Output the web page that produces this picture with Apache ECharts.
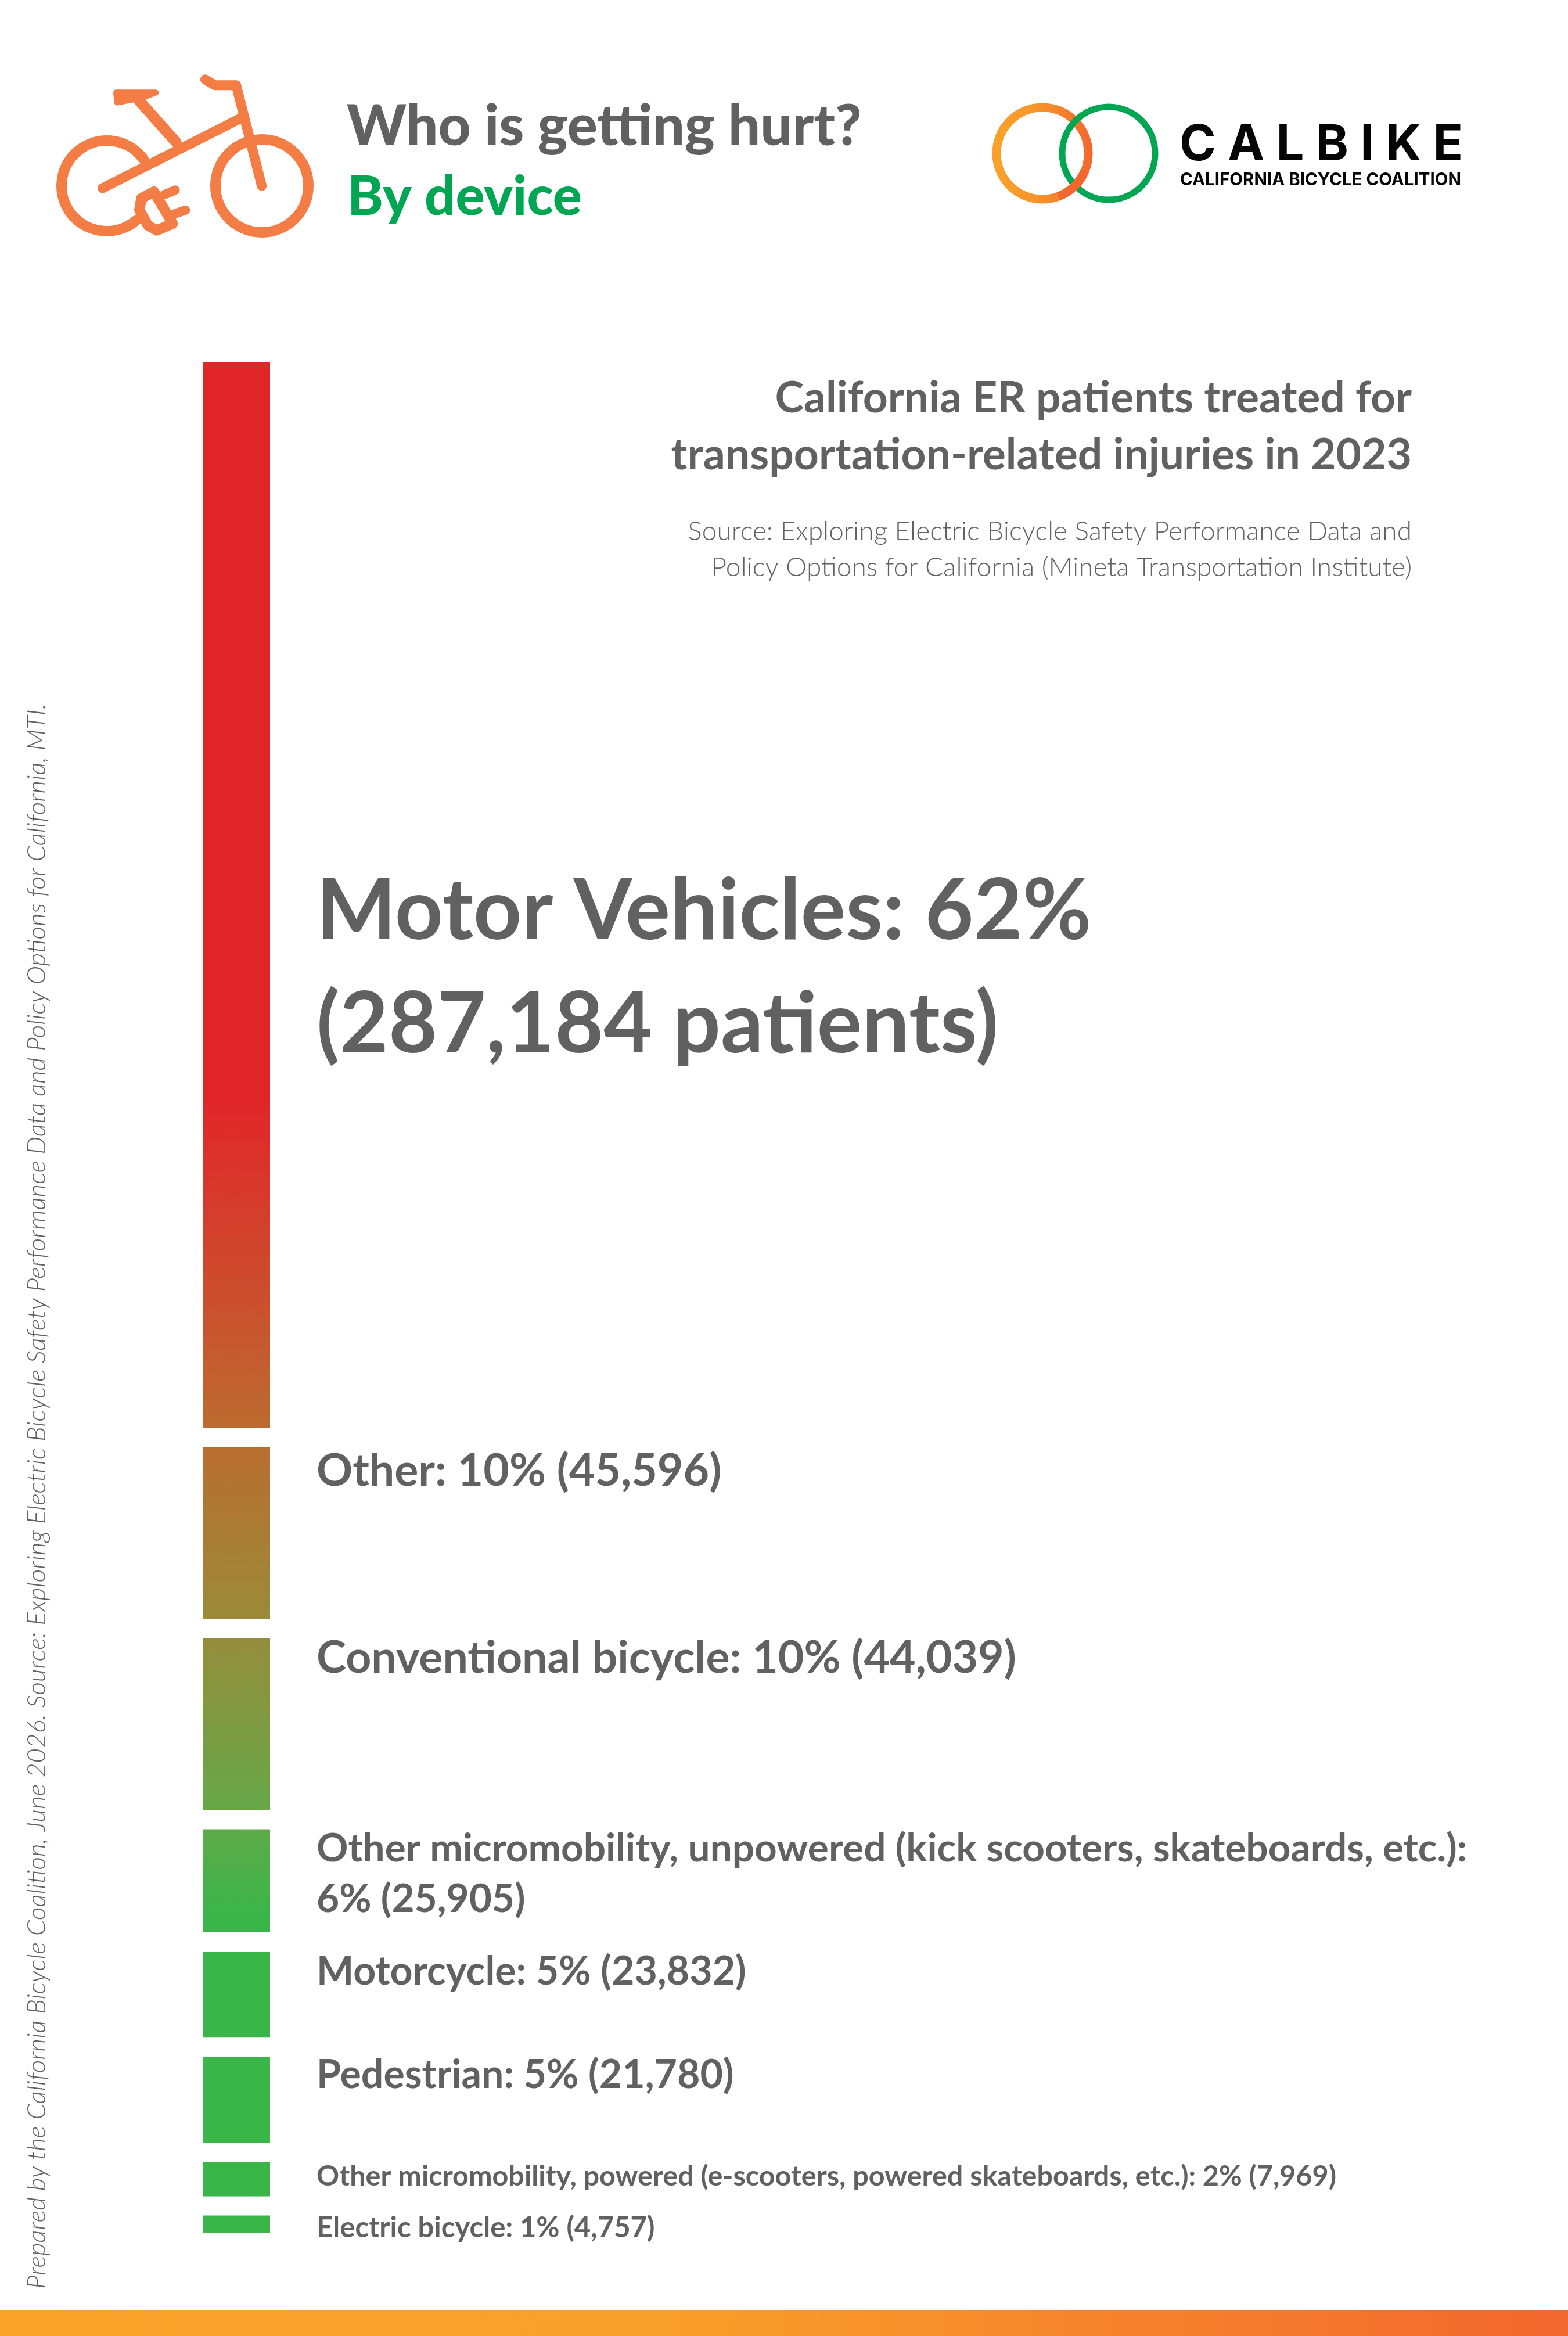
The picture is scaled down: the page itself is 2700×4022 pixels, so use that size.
<!DOCTYPE html>
<html>
<head>
<meta charset="utf-8">
<style>html,body{margin:0;padding:0;background:#fff}#c{width:2700px;height:4022px}</style>
<script src="https://cdn.jsdelivr.net/npm/echarts@6/dist/echarts.min.js"></script>
</head>
<body>
<div id="c"></div>
<script>
// ---------- data ----------
const categories = ['Motor Vehicles','Other','Conventional bicycle','Other micromobility, unpowered (kick scooters, skateboards, etc.)','Motorcycle','Pedestrian','Other micromobility, powered (e-scooters, powered skateboards, etc.)','Electric bicycle'];
const percents = [62,10,10,6,5,5,2,1];
const patients = [287184,45596,44039,25905,23832,21780,7969,4757];

// ---------- styles ----------
const FONT = 'Lato';
const GREY = '#616161';
const GROUP_GAP = 1.115;           // white gap between the blocks, in percentage points
const labelStyles = [
  {size:145, lh:195, dy:850, weight:700},
  {size:77, lh:80, dy:2, weight:700},
  {size:77, lh:80, dy:-5, weight:700},
  {size:67.5, lh:87, dy:-10, weight:700},
  {size:68, lh:80, dy:-5, weight:700},
  {size:68, lh:80, dy:-8, weight:700},
  {size:48.5, lh:60, dy:-5, weight:700},
  {size:49, lh:60, dy:-8, weight:700}
];
const barColorStops = [
  {offset:0, color:'#E1262A'},{offset:0.396, color:'#E1262A'},{offset:0.570, color:'#BC6B30'},
  {offset:0.672, color:'#9A8A3A'},{offset:0.774, color:'#66A848'},{offset:0.831, color:'#39B54A'},{offset:1, color:'#39B54A'}
];
const grid = {left:349, top:623, width:116, height:3221};

// ---------- series ----------
const fmt = n => n.toLocaleString('en-US');
function labelText(i){
  if(i===0) return categories[i]+': '+percents[i]+'%\n('+fmt(patients[i])+' patients)';
  if(i===3) return categories[i]+':\n'+percents[i]+'% ('+fmt(patients[i])+')';
  return categories[i]+': '+percents[i]+'% ('+fmt(patients[i])+')';
}
const series = [];
categories.forEach((c,i)=>{
  const s = labelStyles[i];
  series.push({
    type:'bar', stack:'all', name:c, barWidth:116, data:[percents[i]],
    itemStyle:{color:{type:'linear',global:true,x:0,y:grid.top,x2:0,y2:grid.top+grid.height,colorStops:barColorStops}},
    label:{show:true, position:[196,s.dy], align:'left', verticalAlign:'top', formatter:()=>labelText(i),
      fontFamily:FONT, fontWeight:s.weight, fontSize:s.size, lineHeight:s.lh, color:GREY}
  });
  if(i<categories.length-1) series.push({type:'bar',stack:'all',name:'gap'+i,barWidth:116,data:[GROUP_GAP],itemStyle:{color:'rgba(0,0,0,0)'},silent:true});
});
const yMax = percents.reduce((a,b)=>a+b,0)+GROUP_GAP*(categories.length-1);

// ---------- decorative graphics ----------
const ORANGE = '#F47C45';
const iz = (X,Y)=>[90+X/3,120+Y/3];
const pts = a=>a.map(p=>iz(p[0],p[1]));
const stroke = (w)=>({stroke:ORANGE,fill:null,lineWidth:w,lineCap:'round',lineJoin:'round'});
function poly(a,w){return {type:'polyline',shape:{points:pts(a)},style:stroke(w)};}
function txt(x,y,t,size,o={}){return {type:'text',x,y,rotation:o.rot||0,style:{text:t,fontFamily:o.font||FONT,fontWeight:o.weight||700,fontStyle:o.style||'normal',fontSize:size,fill:o.fill||GREY,align:o.align||'left',verticalAlign:'middle'}};}
const graphicEls = [
  // bike icon
  {type:'arc',shape:{cx:184,cy:320,r:78,startAngle:Math.PI*50/180,endAngle:-Math.PI*36/180,clockwise:true},style:stroke(18)},
  {type:'circle',shape:{cx:451,cy:320,r:80},style:{stroke:ORANGE,fill:null,lineWidth:18}},
  poly([[260,612],[985,245]],17),
  poly([[440,150],[640,375]],19),
  poly([[790,50],[840,80],[950,80],[1082,600]],17),
  {type:'polygon',shape:{points:pts([[330,118],[535,118],[465,145],[335,170]])},style:{fill:ORANGE,stroke:ORANGE,lineWidth:10,lineJoin:'round'}},
  {type:'polygon',shape:{points:pts([[525,630],[622,795],[540,830],[495,805],[450,725],[460,665]])},style:stroke(18)},
  poly([[580,645],[635,622]],16),
  poly([[632,745],[688,725]],16),
  // logo rings
  {type:'circle',shape:{cx:1795,cy:264,r:79},style:{fill:null,lineWidth:15,stroke:{type:'linear',x:0,y:0,x2:1,y2:0,colorStops:[{offset:0,color:'#F9A22A'},{offset:0.45,color:'#F7942B'},{offset:1,color:'#F2672E'}]}}},
  {type:'circle',shape:{cx:1909,cy:264,r:80},style:{fill:null,lineWidth:11,stroke:'#00A651'}},
  {type:'arc',shape:{cx:1795,cy:264,r:79,startAngle:Math.PI*22/180,endAngle:Math.PI*70/180,clockwise:true},style:{fill:null,lineWidth:15,stroke:'#F2672E'}},
  txt(2031,250,'C A L B I K E',85,{font:'Inter',weight:700,fill:'#050505'}),
  txt(2032,310,'CALIFORNIA BICYCLE COALITION',29.5,{font:'Inter',weight:700,fill:'#050505'}),
  // headings
  txt(597,219,'Who is getting hurt?',97.5,{weight:900}),
  txt(598,340,'By device',93.5,{weight:900,fill:'#00A651'}),
  txt(2431,686,'California ER patients treated for',75,{align:'right'}),
  txt(2431,784,'transportation-related injuries in 2023',75,{align:'right'}),
  txt(2431,915,'Source: Exploring Electric Bicycle Safety Performance Data and',46,{align:'right',weight:300}),
  txt(2431,977,'Policy Options for California (Mineta Transportation Institute)',46,{align:'right',weight:300}),
  txt(64,3941,'Prepared by the California Bicycle Coalition, June 2026. Source: Exploring Electric Bicycle Safety Performance Data and Policy Options for California, MTI.',43.8,{weight:300,style:'italic',rot:Math.PI/2}),
  // bottom band
  {type:'rect',shape:{x:0,y:3977,width:2700,height:45},style:{fill:{type:'linear',x:0,y:0,x2:1,y2:0,colorStops:[{offset:0,color:'#F9A22A'},{offset:0.42,color:'#F9A02A'},{offset:1,color:'#F2672E'}]}}}
];

const chart = echarts.init(document.getElementById('c'));
chart.setOption({
  animation:false,
  backgroundColor:'#ffffff',
  grid:grid,
  xAxis:{type:'category',data:['share'],show:false},
  yAxis:{type:'value',inverse:true,min:0,max:yMax,show:false},
  series:series,
  graphic:{elements:graphicEls}
});
</script>
</body>
</html>
